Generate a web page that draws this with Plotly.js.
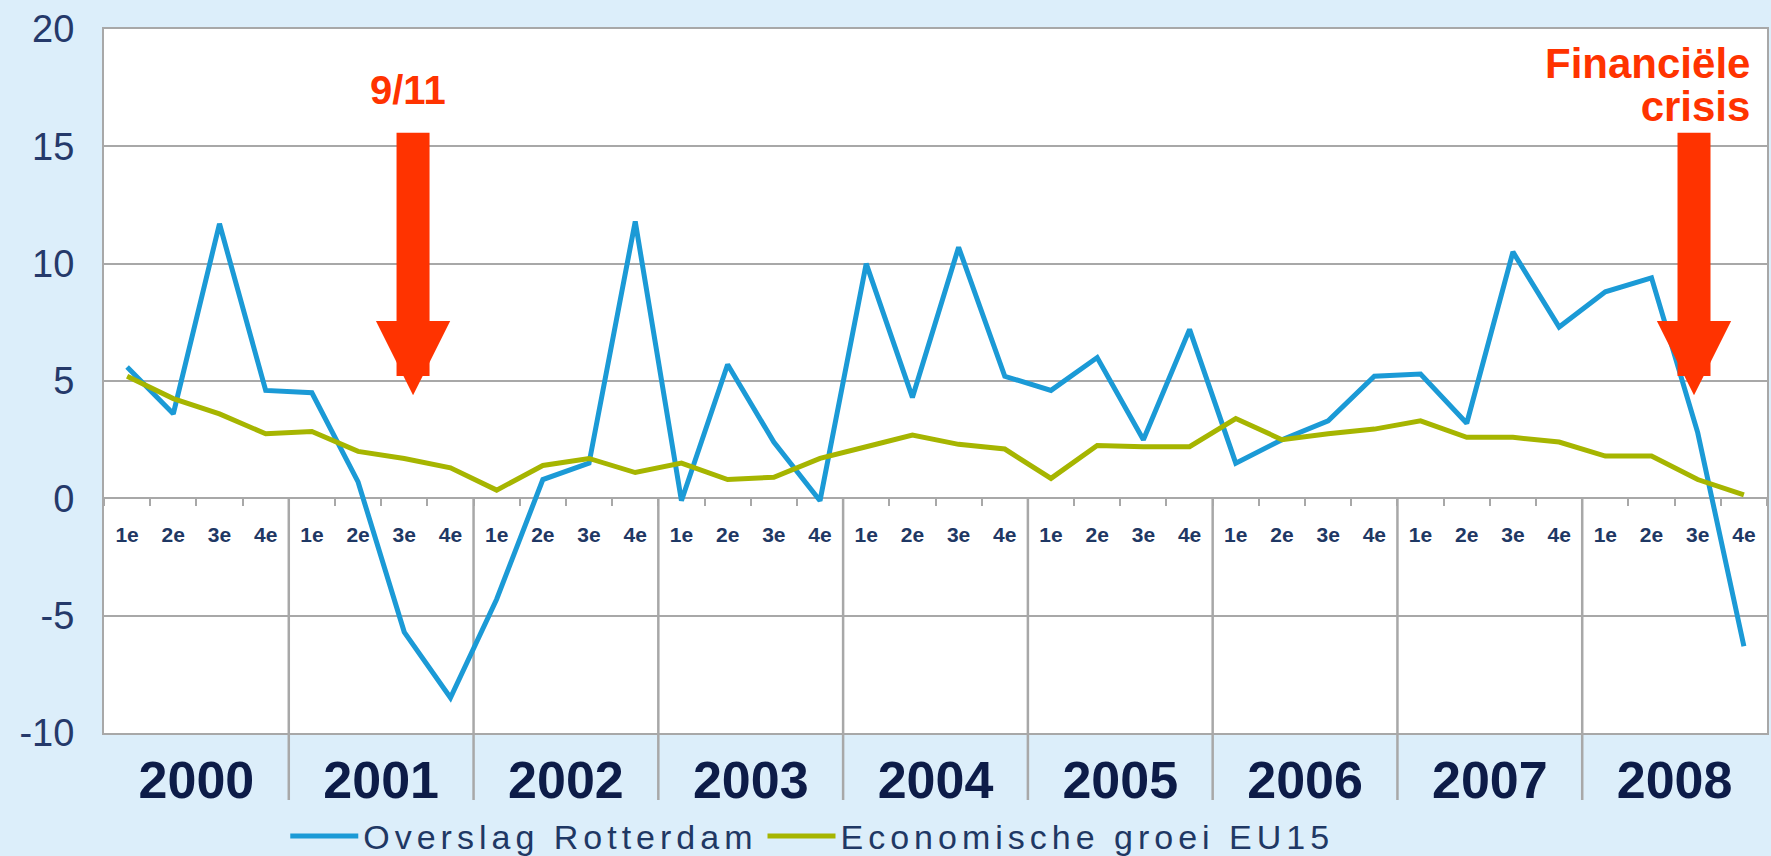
<!DOCTYPE html>
<html><head><meta charset="utf-8">
<script src="https://cdn.plot.ly/plotly-3.0.1.min.js"></script>
<style>
html,body{margin:0;padding:0;background:#dceefa;}
#chart{width:1771px;height:856px;}
.legendtext{letter-spacing:5px;}
</style></head><body><div id="chart"></div>
<script>
const years = ['2000','2001','2002','2003','2004','2005','2006','2007','2008'];
const quarters = ['1e','2e','3e','4e'];
const overslagRotterdam = [5.6,3.6,11.7,4.6, 4.5,0.7,-5.7,-8.5, -4.3,0.8,1.5,11.8, -0.1,5.7,2.4,-0.1, 10.0,4.3,10.7,5.2, 4.6,6.0,2.5,7.2, 1.5,2.5,3.3,5.2, 5.3,3.2,10.5,7.3, 8.8,9.4,2.8,-6.3];
const groeiEU15 = [5.2,4.25,3.6,2.75, 2.85,2.0,1.7,1.3, 0.35,1.4,1.7,1.1, 1.5,0.8,0.9,1.7, 2.2,2.7,2.3,2.1, 0.85,2.25,2.2,2.2, 3.4,2.5,2.75,2.95, 3.3,2.6,2.6,2.4, 1.8,1.8,0.8,0.15];
const yTicks = [-10,-5,0,5,10,15,20];
const events = [
  {label:'9/11', pos:6.19},
  {label:'Financiële<br>crisis', pos:33.92}
];

const cats = [], qLabels = [];
years.forEach(y => quarters.forEach(q => { cats.push(y + ' ' + q); qLabels.push(q); }));
const nQ = quarters.length;
const yearCenters = years.map((y,k) => k*nQ + (nQ-1)/2);
const yMin = -10, yMax = 20;
const zeroPos = (0 - yMin)/(yMax - yMin);
const red = '#ff3300';
const grid = '#a8a8a8';
const boldFont = 'Liberation Sans, Arial, sans-serif';

const traces = [
  {type:'scatter', mode:'lines', x:cats, y:overslagRotterdam, name:'Overslag Rotterdam',
   line:{color:'#1b9ad6', width:5}, xaxis:'x', yaxis:'y', hoverinfo:'skip'},
  {type:'scatter', mode:'lines', x:cats, y:groeiEU15, name:'Economische groei EU15',
   line:{color:'#a6b500', width:5}, xaxis:'x', yaxis:'y', hoverinfo:'skip'}
];

const shapes = years.slice(1).map((y,k) => ({
  type:'line', xref:'x2', yref:'paper',
  x0:(k+1)*nQ - 0.5, x1:(k+1)*nQ - 0.5, y0:zeroPos, y1:-0.095,
  line:{color:grid, width:2.5}, layer:'between'
}));

const arrowTop = 15.64, arrowTip = 4.39;
const annotations = [];
events.forEach(ev => {
  annotations.push({xref:'x2', yref:'y', x:ev.pos, y:arrowTip, axref:'x2', ayref:'y', ax:ev.pos, ay:arrowTop,
    text:'', showarrow:true, arrowhead:2, arrowsize:0.45, arrowwidth:33, arrowcolor:red});
});
annotations.push({xref:'x2', yref:'y', x:6.08, y:17.4, text:events[0].label, showarrow:false,
  font:{size:40, color:red, weight:'bold', family:boldFont}});
annotations.push({xref:'x2', yref:'y', x:35.17, y:17.6, xanchor:'right', align:'right',
  text:'<span style="font-size:42px">' + events[1].label.split('<br>').join('</span><br><span style="font-size:42px">') + '</span>',
  showarrow:false, font:{size:33, color:red, weight:'bold', family:boldFont}});

const layout = {
  width:1771, height:856,
  paper_bgcolor:'#dceefa', plot_bgcolor:'#ffffff',
  margin:{l:104, r:4, t:29, b:123, autoexpand:false},
  font:{family:'Liberation Sans, Arial, sans-serif'},
  showlegend:true,
  legend:{orientation:'h', x:0.109, y:-0.147, xanchor:'left', yanchor:'middle',
    font:{size:34, color:'#1f3864'}, itemwidth:68, bgcolor:'rgba(0,0,0,0)'},
  xaxis:{type:'category', anchor:'free', position:zeroPos, range:[-0.5, cats.length-0.5],
    tickvals:cats, ticktext:qLabels, tickson:'boundaries', ticks:'outside', ticklen:7, tickwidth:2,
    tickcolor:grid, showgrid:false, showline:false, zeroline:false, tickangle:0,
    tickfont:{size:21, color:'#1f3864', weight:'bold'}, ticklabelstandoff:22, fixedrange:true},
  xaxis2:{overlaying:'x', anchor:'y', side:'bottom', type:'linear', range:[-0.5, cats.length-0.5],
    tickvals:yearCenters, ticktext:years, ticks:'', showgrid:false, zeroline:false,
    showline:true, mirror:true, linecolor:grid, linewidth:2, tickangle:0,
    tickfont:{size:52, color:'#0d1c48', weight:'bold'}, ticklabelstandoff:1},
  yaxis:{range:[yMin,yMax], tickvals:yTicks, ticktext:yTicks.map(v => String(v)), showgrid:true, gridcolor:grid, gridwidth:2,
    zeroline:true, zerolinecolor:grid, zerolinewidth:2, showline:true, mirror:true,
    linecolor:grid, linewidth:2, ticks:'', tickfont:{size:38, color:'#25396a'}, ticklabelstandoff:20},
  shapes:shapes, annotations:annotations
};

Plotly.newPlot('chart', traces, layout, {displayModeBar:false, staticPlot:true});
</script></body></html>
